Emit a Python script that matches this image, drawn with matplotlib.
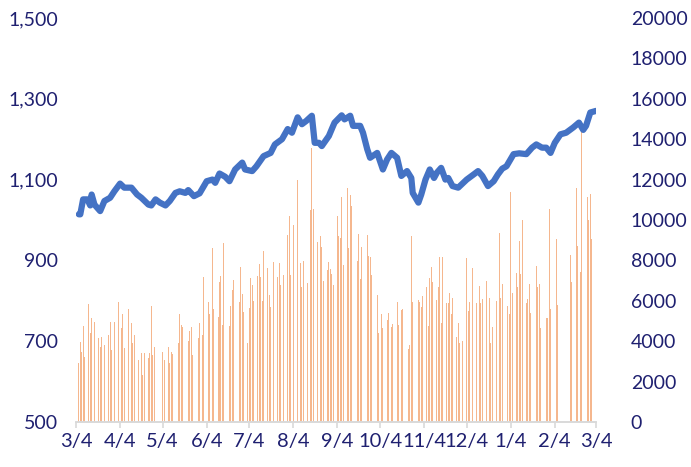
import pandas as pd
import matplotlib
matplotlib.use("Agg")
import matplotlib.pyplot as plt

# index level (left axis)
line_dates = [
    '2023-03-06', '2023-03-07', '2023-03-09', '2023-03-12', '2023-03-14', '2023-03-15',
    '2023-03-17', '2023-03-21', '2023-03-24', '2023-03-28', '2023-03-31', '2023-04-04',
    '2023-04-07', '2023-04-12', '2023-04-16', '2023-04-19', '2023-04-24', '2023-04-26',
    '2023-04-29', '2023-05-02', '2023-05-06', '2023-05-09', '2023-05-13', '2023-05-16',
    '2023-05-20', '2023-05-22', '2023-05-26', '2023-05-30', '2023-06-02', '2023-06-04',
    '2023-06-08', '2023-06-10', '2023-06-13', '2023-06-17', '2023-06-20', '2023-06-24',
    '2023-06-29', '2023-07-01', '2023-07-06', '2023-07-09', '2023-07-14', '2023-07-19',
    '2023-07-22', '2023-07-27', '2023-07-31', '2023-08-03', '2023-08-07', '2023-08-10',
    '2023-08-13', '2023-08-17', '2023-08-19', '2023-08-22', '2023-08-24', '2023-08-29',
    '2023-09-01', '2023-09-02', '2023-09-07', '2023-09-09', '2023-09-13', '2023-09-15',
    '2023-09-20', '2023-09-22', '2023-09-25', '2023-09-27', '2023-10-02', '2023-10-06',
    '2023-10-09', '2023-10-12', '2023-10-16', '2023-10-19', '2023-10-23', '2023-10-26',
    '2023-10-27', '2023-10-31', '2023-11-02', '2023-11-05', '2023-11-08', '2023-11-11',
    '2023-11-13', '2023-11-16', '2023-11-19', '2023-11-21', '2023-11-24', '2023-11-28',
    '2023-12-01', '2023-12-04', '2023-12-09', '2023-12-12', '2023-12-15', '2023-12-19',
    '2023-12-23', '2023-12-26', '2023-12-29', '2024-01-01', '2024-01-06', '2024-01-10',
    '2024-01-15', '2024-01-19', '2024-01-22', '2024-01-26', '2024-01-29', '2024-02-01',
    '2024-02-04', '2024-02-08', '2024-02-12', '2024-02-17', '2024-02-21', '2024-02-24',
    '2024-02-26', '2024-02-29', '2024-03-04',
]
line_vals = [
    1014, 1014, 1051, 1051, 1036, 1063,
    1038, 1022, 1047, 1055, 1071, 1090,
    1080, 1080, 1063, 1055, 1038, 1036,
    1051, 1043, 1036, 1047, 1067, 1071,
    1067, 1074, 1059, 1066, 1084, 1096,
    1100, 1092, 1115, 1107, 1096, 1125,
    1142, 1125, 1121, 1133, 1158, 1166,
    1187, 1200, 1225, 1216, 1254, 1237,
    1245, 1258, 1191, 1191, 1183, 1208,
    1233, 1241, 1259, 1249, 1258, 1233,
    1233, 1216, 1175, 1154, 1166, 1125,
    1150, 1166, 1154, 1109, 1121, 1104,
    1067, 1043, 1063, 1100, 1125, 1104,
    1117, 1129, 1100, 1104, 1084, 1080,
    1090, 1100, 1113, 1121, 1109, 1084,
    1096, 1113, 1127, 1133, 1163, 1165,
    1163, 1179, 1187, 1179, 1179, 1166,
    1191, 1212, 1216, 1229, 1241, 1223,
    1233, 1266, 1270,
]

# daily volume (right axis), one value per trading day
holidays = ['2023-05-01', '2023-05-02', '2023-05-03', '2024-01-01',
            '2024-02-08', '2024-02-09', '2024-02-12', '2024-02-13', '2024-02-14']
vol_mar23 = [2900, 3980, 3480, 4750, 3230, 5840, 4390, 5130, 4390, 4970,
             4140, 3730, 4220, 3320, 3810, 4310, 4970, 3560, 4550, 4970]
vol_apr23 = [5960, 4720, 4640, 5350, 3650, 5580, 4140, 4880, 3890, 4310,
             3070, 3230, 3400, 2330, 3430, 3150, 3430, 5740, 3300, 3730]
vol_may23 = [3480, 3070, 3730, 2940, 3480, 3370, 4390, 3900, 5350, 4800,
             4720, 3600, 4030, 4520, 4720, 3320, 3320, 4140, 4880, 5460]
vol_jun23 = [4310, 7160, 5960, 5350, 7030, 8600, 5580, 5210, 6910, 7230, 4800,
             8880, 5380, 4750, 5740, 6530, 7030, 7330, 5960, 7660, 6340, 5460]
vol_jul23 = [3930, 5630, 7150, 6780, 6000, 7230, 7800, 7160, 6010, 8480, 7620,
             6290, 5710, 6400, 7900, 7190, 7850, 6770, 7850, 7260, 9260]
vol_aug23 = [10200, 7290, 7920, 9750, 11960, 8070, 7850, 6670, 7950, 6860, 8050, 10500,
             13560, 10530, 8930, 7770, 9220, 8680, 6980, 7520, 7900, 7550, 7340]
vol_sep23 = [6800, 10200, 9210, 9090, 11160, 7770, 11570, 8600, 11240, 10690, 10410,
             7990, 9310, 7060, 8680, 12770, 9260, 8220, 8150, 7280, 6700]
vol_oct23 = [6290, 4390, 8180, 5350, 4640, 5050, 5380, 3930, 4690, 4850, 5960,
             4800, 8320, 5540, 5580, 5410, 3600, 3810, 9210, 5960, 4550, 6040]
vol_nov23 = [5960, 5710, 6240, 6670, 4750, 7110, 7690, 6950, 6040, 6670, 8150,
             4920, 8150, 5910, 5910, 6400, 5330, 6120, 4220, 4920, 3890, 4690]
vol_dec23 = [4010, 8100, 5510, 5960, 9010, 7610, 5910, 6290, 6730, 5870, 6070,
             6980, 4970, 6120, 3890, 4720, 6010, 5260, 9340, 6120, 6820]
vol_jan24 = [5740, 5350, 11400, 6400, 7360, 6700, 8980, 7330, 10000, 5910, 6070,
             6830, 5410, 6900, 7720, 6700, 6820, 4640, 5100, 5130, 5130, 10530]
vol_feb24 = [5590, 6780, 9060, 5790, 6010, 8270, 6930, 11570,
             8710, 6500, 7440, 14450, 8510, 11160, 10000, 11290]
vol_mar24 = [9040, 10580]

volumes = (vol_mar23 + vol_apr23 + vol_may23 + vol_jun23 + vol_jul23 + vol_aug23 +
           vol_sep23 + vol_oct23 + vol_nov23 + vol_dec23 + vol_jan24 + vol_feb24 + vol_mar24)
trade_days = pd.bdate_range('2023-03-06', '2024-03-04', freq='C', holidays=holidays)
n = min(len(trade_days), len(volumes))

tick_dates = pd.date_range('2023-03-04', periods=13, freq=pd.DateOffset(months=1))
tick_labels = ['3/4', '4/4', '5/4', '6/4', '7/4', '8/4', '9/4', '10/4',
               '11/4', '12/4', '1/4', '2/4', '3/4']

txt = '#1f2070'
plt.rcParams['font.family'] = ['Lato', 'DejaVu Sans']

fig = plt.figure(figsize=(6.91, 4.67), dpi=100)
ax = fig.add_axes([0.110, 0.0964, 0.7525, 0.8651])
ax2 = ax.twinx()

ax2.bar(trade_days[:n], volumes[:n], width=0.6, color='#ED7D31', alpha=0.55, linewidth=0)
ax.plot(pd.to_datetime(line_dates), line_vals, color='#4472C4', lw=4.5,
        solid_joinstyle='round', solid_capstyle='round')

ax.set_zorder(ax2.get_zorder() + 1)
ax.patch.set_visible(False)

ax.set_xlim(tick_dates[0], tick_dates[-1])
ax.set_ylim(500, 1500)
ax.set_yticks([500, 700, 900, 1100, 1300, 1500])
ax.set_yticklabels(['500', '700', '900', '1,100', '1,300', '1,500'])
ax2.set_ylim(0, 20000)
ax2.set_yticks(range(0, 20001, 2000))

ax.set_xticks(tick_dates)
ax.set_xticklabels(tick_labels)

for a in (ax, ax2):
    for s in ('top', 'left', 'right'):
        a.spines[s].set_visible(False)
    a.spines['bottom'].set_color('#d9d9d9')
    a.spines['bottom'].set_linewidth(1.2)

ax.tick_params(axis='x', length=4, width=1.2, color='#d9d9d9', pad=4,
               labelsize=14.5, labelcolor=txt)
ax.tick_params(axis='y', length=0, pad=13, labelsize=14, labelcolor=txt)
ax2.tick_params(axis='y', length=0, pad=25, labelsize=14, labelcolor=txt)

fig.savefig('out.png', dpi=100)
